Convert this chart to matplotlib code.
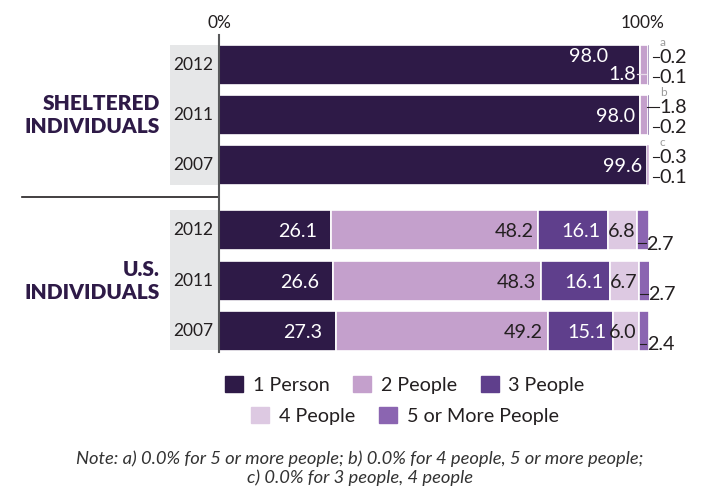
import matplotlib.pyplot as plt
from matplotlib.patches import Patch, Rectangle

plt.rcParams['font.family'] = ['Lato', 'DejaVu Sans']

categories = ['1 Person', '2 People', '3 People', '4 People', '5 or More People']
colors = ['#2e1a47', '#c4a0cc', '#5f3f8c', '#ddc9e2', '#8b65b1']
years = ['2012', '2011', '2007']
groups = ['SHELTERED\nINDIVIDUALS', 'U.S.\nINDIVIDUALS']

# rows: one list per year, values per category (percent)
sheltered = [
    [98.0, 1.8, 0.2, 0.1, 0.0],
    [98.0, 1.8, 0.2, 0.0, 0.0],
    [99.6, 0.3, 0.0, 0.0, 0.1],
]
us = [
    [26.1, 48.2, 16.1, 6.8, 2.7],
    [26.6, 48.3, 16.1, 6.7, 2.7],
    [27.3, 49.2, 15.1, 6.0, 2.4],
]
notes = ['a', 'b', 'c']
note_text = ('Note: a) 0.0% for 5 or more people; b) 0.0% for 4 people, 5 or more people;\n'
             'c) 0.0% for 3 people, 4 people')

dark = '#231f20'
fs = 14.2
fig = plt.figure(figsize=(7.25, 4.93), dpi=100)
# 0% at x=219px, 100% at x=649px ; y axis in "row" units (50px each)
ax = fig.add_axes([219 / 725, 1 - 352 / 493, 430 / 725, (352 - 35) / 493])
ax.set_xlim(0, 100)
ax.set_ylim(5.74, -0.6)

pos_sh = [0, 1, 2]
pos_us = [3.3, 4.32, 5.32]
bh = 0.79

# gray background behind year labels
for y0, y1 in [(-0.4, 2.4), (2.9, 5.7)]:
    ax.add_patch(Rectangle((-11.4, y0), 11.4, y1 - y0, color='#e6e7e8', lw=0,
                           clip_on=False, zorder=0))

for rows, pos in [(sheltered, pos_sh), (us, pos_us)]:
    for vals, y in zip(rows, pos):
        left = 0
        for v, c in zip(vals, colors):
            if v > 0:
                ax.barh(y, v, left=left, height=bh, color=c, edgecolor='white',
                        linewidth=1.2 if v > 1 else 0.3, zorder=2)
            left += v

for y, yr in zip(pos_sh + pos_us, years + years):
    ax.text(-1.4, y, yr, ha='right', va='center', fontsize=12.5, color=dark)

for g, y in zip(groups, [1, 4.32]):
    ax.text(-13.7, y, g, ha='right', va='center', fontsize=15, fontweight='heavy',
            color='#2e1a47', linespacing=1.3)

# US labels
for vals, y in zip(us, pos_us):
    left = 0
    for i, (v, c) in enumerate(zip(vals, colors)):
        if i < 4:
            pad = [3.4, 1.2, 1.6, 0.4][i]
            tc = 'white' if i in (0, 2) else dark
            ax.text(left + v - pad, y + 0.03, f'{v:.1f}', ha='right', va='center',
                    fontsize=fs, color=tc, zorder=3)
        else:
            ax.plot([left + 0.3, left + v - 0.6], [y + 0.26, y + 0.26], color=dark, lw=0.8,
                    clip_on=False, zorder=3)
            ax.text(left + v - 0.5, y + 0.28, f'{v:.1f}', ha='left', va='center',
                    fontsize=fs, color=dark, clip_on=False)
        left += v

# sheltered labels
xo = 100.9
for r, (vals, y, n) in enumerate(zip(sheltered, pos_sh, notes)):
    small = [v for v in vals[1:] if v > 0]
    ax.text(xo + 1.6, y - 0.46, n, ha='left', va='center', fontsize=8.5, color='#9a9a9a')
    if r == 0:
        ax.text(vals[0] - 7.5, y - 0.16, f'{vals[0]:.1f}', ha='right', va='center',
                fontsize=fs, color='white', zorder=3)
        ax.text(vals[0] - 1.0, y + 0.18, f'{small[0]:.1f}', ha='right', va='center',
                fontsize=fs, color='white', zorder=3)
        ax.plot([vals[0] - 0.9, vals[0] + 1.2], [y + 0.18, y + 0.18], color='#e8dcea',
                lw=0.9, zorder=3)
        outs = small[1:]
    else:
        ax.text(vals[0] - 1.2, y + 0.02, f'{vals[0]:.1f}', ha='right', va='center',
                fontsize=fs, color='white', zorder=3)
        outs = small
    for v, dy in zip(outs, [-0.17, 0.23]):
        x0 = 99.6 if (r == 1 and dy < 0) else xo
        ax.plot([x0, xo + 1.4], [y + dy, y + dy], color=dark, lw=0.8, clip_on=False)
        ax.text(xo + 1.5, y + dy + 0.02, f'{v:.1f}', ha='left', va='center',
                fontsize=fs, color=dark, clip_on=False)

# axis styling
for s in ['top', 'right', 'bottom']:
    ax.spines[s].set_visible(False)
ax.spines['left'].set_color('#58595b')
ax.spines['left'].set_linewidth(1.5)
ax.spines['left'].set_zorder(4)
ax.set_yticks([])
ax.set_xticks([])
fig.text(219 / 725, 1 - 23 / 493, '0%', ha='center', va='center', fontsize=12.5, color=dark)
fig.text(643 / 725, 1 - 23 / 493, '100%', ha='center', va='center', fontsize=12.5, color=dark)

# separator between the groups
ax.plot([-45.8, 0], [2.64, 2.64], color=dark, lw=1.2, clip_on=False)

# legend in two centred rows
handles = [Patch(color=c, label=l) for c, l in zip(colors, categories)]
kw = dict(frameon=False, fontsize=fs, handlelength=0.9, handleheight=0.9,
          handletextpad=0.5, columnspacing=1.2, labelcolor=dark, borderaxespad=0)
fig.legend(handles=handles[:3], ncol=3, loc='center', bbox_to_anchor=(405 / 725, 1 - 385 / 493), **kw)
fig.legend(handles=handles[3:], ncol=2, loc='center', bbox_to_anchor=(405 / 725, 1 - 416 / 493), **kw)

fig.text(360 / 725, 1 - 468 / 493, note_text, ha='center', va='center', fontsize=13.2,
         style='italic', color='#333333', linespacing=1.2)

fig.savefig('out.png', dpi=100)
